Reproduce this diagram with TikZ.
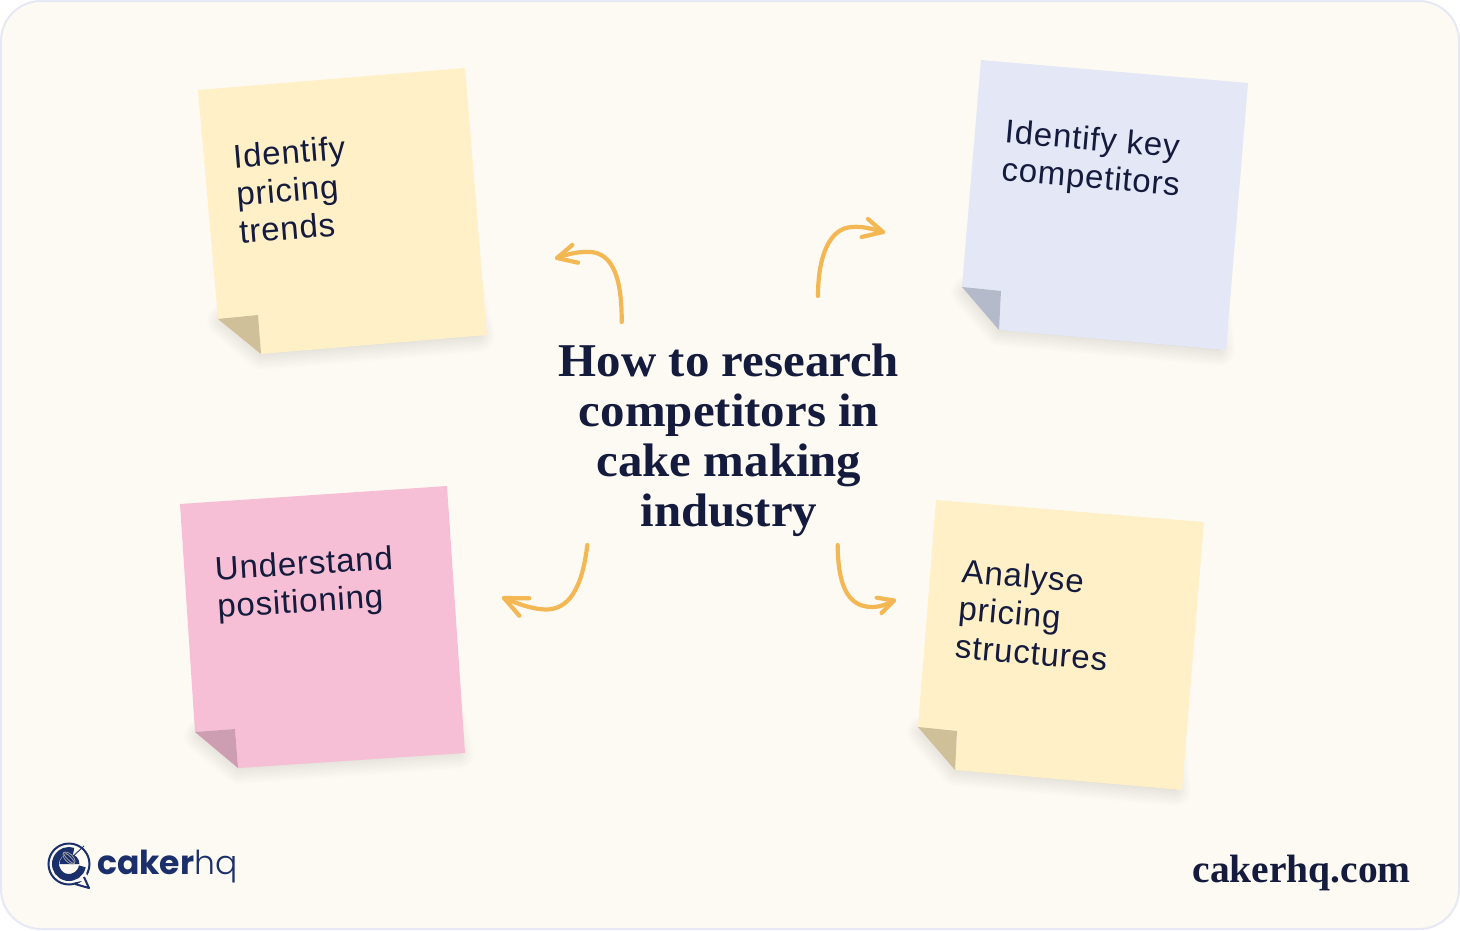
\documentclass[tikz,border=0pt]{standalone}
\usepackage{fontspec}
\setmainfont{Liberation Sans}[LetterSpace=2.5]
\newfontfamily\titlefont{Liberation Serif}[FakeStretch=1.04]
\newfontfamily\sitefont{Liberation Serif}
\newfontfamily\logofont{Poppins}
\newfontfamily\logolight{Poppins Light}
\usetikzlibrary{calc}
\definecolor{pagebg}{HTML}{FDFAF3}
\definecolor{pageedge}{HTML}{E6E9F5}
\definecolor{inkc}{HTML}{141B3C}
\definecolor{logoc}{HTML}{1B2F6B}
\definecolor{arrowc}{HTML}{F3B854}
\definecolor{yellown}{HTML}{FFF0C8}
\definecolor{yellowf}{HTML}{CFC09A}
\definecolor{bluen}{HTML}{E3E7F6}
\definecolor{bluef}{HTML}{B5BACA}
\definecolor{pinkn}{HTML}{F7BFD5}
\definecolor{pinkf}{HTML}{CD9DB1}
\tikzset{
  notetext/.style={text=inkc,font=\fontsize{33}{38}\selectfont,align=left,inner sep=0pt,anchor=north west},
  titletext/.style={text=inkc,font=\titlefont\bfseries\fontsize{47}{50}\selectfont,align=center,inner sep=0pt},
  curvearrow/.style={draw=arrowc,line width=4.2pt,line cap=round,line join=round},
}
\newcommand{\softshadow}[1]{%
  \begin{scope}[shift={(1,2)}]
  \fill[black,opacity=0.02] #1;
  \foreach \w in {32,29,26,23,20,17,14,11,8,5,2}{
    \draw[black,draw opacity=0.009,line width=\w pt,line join=round] #1;
  }
  \end{scope}}
\begin{document}
\begin{tikzpicture}[x=1pt,y=-1pt]
\useasboundingbox (0,0) rectangle (1460,930);
\fill[white] (0,0) rectangle (1460,930);
\draw[draw=pageedge,fill=pagebg,line width=2pt] (1,1) [rounded corners=40pt] rectangle (1459,929);

% --- note: pricing trends
\softshadow{(222,319)--(261,352)--(478,334)--(440,170)--cycle}
\fill[yellown] (198,90)--(465,68)--(487,335)--(261,354)--(258,315)--(218,319)--cycle;
\fill[yellowf] (218,319)--(258,315)--(261,354)--cycle;
\node[notetext,rotate=4.7] (ntrends) at (232,144) {Identify\\pricing\\trends};

% --- note: key competitors
\softshadow{(966,290)--(999,328)--(1218,348)--(1200,180)--cycle}
\fill[bluen] (981,60)--(1248,83)--(1226,350)--(999,330)--(1001,291)--(962,287)--cycle;
\fill[bluef] (962,287)--(1001,291)--(999,330)--cycle;
\node[notetext,rotate=-5] (ncomp) at (1006,118.5) {Identify key\\competitors};

% --- note: positioning
\softshadow{(199,734)--(238,766)--(457,751)--(420,590)--cycle}
\fill[pinkn] (180,504)--(447,486)--(465,753)--(238,768)--(235,729)--(195,732)--cycle;
\fill[pinkf] (195,732)--(235,729)--(238,768)--cycle;
\node[notetext,rotate=3.6] (npos) at (214,556) {Understand\\positioning};

% --- note: pricing structures
\softshadow{(922,730)--(955,768)--(1174,788)--(1155,620)--cycle}
\fill[yellown] (936,500)--(1204,522)--(1182,790)--(955,770)--(957,731)--(918,727)--cycle;
\fill[yellowf] (918,727)--(957,731)--(955,770)--cycle;
\node[notetext,rotate=-5] (nstruct) at (963,558) {Analyse\\pricing\\structures};

% --- title
\node[titletext] (title) at (729,440) {How to research\\competitors in\\cake making\\industry};

% --- arrows
\coordinate (a1s) at (621.7,322);
\coordinate (a1t) at (557,258);
\coordinate (a2s) at (818,296);
\coordinate (a2t) at (883,232);
\coordinate (a3s) at (587.3,545);
\coordinate (a3t) at (504,598);
\coordinate (a4s) at (837.7,545);
\coordinate (a4t) at (894,600.5);

\draw[curvearrow] (a1s) .. controls (622,272) and (610,250) .. (585,252) .. controls (575,252) and (565,255) .. (a1t);
\draw[curvearrow] (572.3,245) -- (a1t) -- (578,262.7);

\draw[curvearrow] (a2s) .. controls (818,255) and (830,228) .. (852,227) .. controls (862,226) and (873,229) .. (a2t);
\draw[curvearrow] (868,219) -- (a2t) -- (861.7,237);

\draw[curvearrow] (a3s) .. controls (582,590) and (568,610) .. (545,609.5) .. controls (532,609) and (518,604) .. (a3t);
\draw[curvearrow] (529.3,598.3) -- (a3t) -- (519.3,615.7);

\draw[curvearrow] (a4s) .. controls (838,582) and (846,607) .. (872,607) .. controls (880,607) and (888,604) .. (a4t);
\draw[curvearrow] (876.7,597.7) -- (a4t) -- (881.7,613);

% --- logo mark
\draw[logoc,line width=2pt] (69,864) circle (20.5);
\fill[pagebg] (76,882) -- (88,880) -- (86,872) -- cycle;
\draw[logoc,line width=2pt,line join=round] (75,884) -- (89,888) -- (84,877);
\draw[logoc,line width=7pt] (69,864) ++(10:13.5) arc[start angle=-10,end angle=-290,x radius=13.5,y radius=-13.5];
\fill[logoc] (59.5,864) arc[start angle=180,end angle=0,x radius=10,y radius=-10] -- cycle;
\draw[logoc,line width=.9pt] (68,861) -- (84,846);
\draw[gray!70,line width=.7pt,rotate around={-45:(69,858)}] (69,858) ellipse (7.5 and 4);
\draw[gray!70,line width=.7pt,rotate around={-45:(69,858)}] (69,858) ellipse (7.5 and 1.8);

% --- logo words
\node[inner sep=0pt,anchor=base west,text=logoc,font=\logofont\bfseries\fontsize{33}{33}\selectfont] (lcaker) at (97,874) {caker};
\node[inner sep=0pt,anchor=base west,text=logoc,font=\logolight\fontsize{33}{33}\selectfont] (lhq) at (lcaker.base east) {hq};

% --- site
\node[inner sep=0pt,anchor=base east,text=inkc,font=\sitefont\bfseries\fontsize{39.5}{40}\selectfont] (site) at (1411,882) {cakerhq.com};
\end{tikzpicture}
\end{document}
